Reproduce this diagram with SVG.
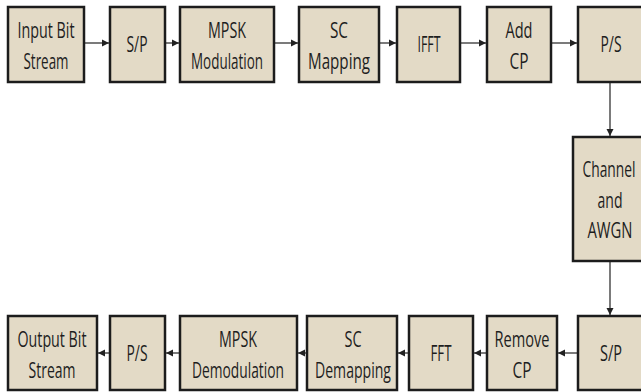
<svg xmlns="http://www.w3.org/2000/svg" width="641" height="392" viewBox="0 0 641 392">
<style>
.box{fill:#e3dac6;stroke:#1c1c1c;stroke-width:2.5}
.t{font-family:"Open Sans","Liberation Sans",sans-serif;font-size:21px;fill:#1e1e1e;text-anchor:middle}
.c{stroke:#333;stroke-width:1.3;fill:none;marker-end:url(#ah)}
</style>
<defs>
<marker id="ah" markerWidth="8" markerHeight="8" refX="7" refY="4" orient="auto" markerUnits="userSpaceOnUse">
<path d="M0,0.5 L7,4 L0,7.5 Z" fill="#222"/>
</marker>
</defs>
<rect width="641" height="392" fill="#ffffff"/>
<g id="connectors">
<line class="c" x1="84" y1="43" x2="109" y2="43"/>
<line class="c" x1="165" y1="43" x2="179" y2="43"/>
<line class="c" x1="274" y1="43" x2="298" y2="43"/>
<line class="c" x1="379" y1="43" x2="396" y2="43"/>
<line class="c" x1="460" y1="43" x2="486" y2="43"/>
<line class="c" x1="551" y1="43" x2="577" y2="43"/>
<line class="c" x1="610" y1="82" x2="610" y2="136"/>
<line class="c" x1="610" y1="261" x2="610" y2="315"/>
<line class="c" x1="578" y1="353" x2="558" y2="353"/>
<line class="c" x1="487" y1="353" x2="474" y2="353"/>
<line class="c" x1="409" y1="353" x2="398" y2="353"/>
<line class="c" x1="307" y1="353" x2="298" y2="353"/>
<line class="c" x1="180" y1="353" x2="166" y2="353"/>
<line class="c" x1="110" y1="353" x2="98" y2="353"/>
</g>
<g id="input">
<rect class="box" x="8" y="7" width="76" height="75"/>
<text class="t" x="46" y="38" textLength="57" lengthAdjust="spacingAndGlyphs">Input Bit</text>
<text class="t" x="46" y="69" textLength="45" lengthAdjust="spacingAndGlyphs">Stream</text>
</g>
<g id="sp1">
<rect class="box" x="110" y="7" width="55" height="75"/>
<text class="t" x="137" y="52" textLength="21" lengthAdjust="spacingAndGlyphs">S/P</text>
</g>
<g id="mpskmod">
<rect class="box" x="180" y="7" width="94" height="75"/>
<text class="t" x="227" y="38" textLength="38" lengthAdjust="spacingAndGlyphs">MPSK</text>
<text class="t" x="227" y="69" textLength="72" lengthAdjust="spacingAndGlyphs">Modulation</text>
</g>
<g id="scmap">
<rect class="box" x="299" y="7" width="80" height="75"/>
<text class="t" x="339" y="38" textLength="18" lengthAdjust="spacingAndGlyphs">SC</text>
<text class="t" x="339" y="69" textLength="62" lengthAdjust="spacingAndGlyphs">Mapping</text>
</g>
<g id="ifft">
<rect class="box" x="397" y="7" width="63" height="75"/>
<text class="t" x="429" y="52" textLength="23" lengthAdjust="spacingAndGlyphs">IFFT</text>
</g>
<g id="addcp">
<rect class="box" x="487" y="7" width="64" height="75"/>
<text class="t" x="519" y="38" textLength="27" lengthAdjust="spacingAndGlyphs">Add</text>
<text class="t" x="519" y="69" textLength="19" lengthAdjust="spacingAndGlyphs">CP</text>
</g>
<g id="ps1">
<rect class="box" x="578" y="7" width="72" height="75"/>
<text class="t" x="611" y="52" textLength="21" lengthAdjust="spacingAndGlyphs">P/S</text>
</g>
<g id="channel">
<rect class="box" x="573" y="137" width="76" height="124"/>
<text class="t" x="609" y="177" textLength="53" lengthAdjust="spacingAndGlyphs">Channel</text>
<text class="t" x="610" y="208" textLength="25" lengthAdjust="spacingAndGlyphs">and</text>
<text class="t" x="610" y="238" textLength="45" lengthAdjust="spacingAndGlyphs">AWGN</text>
</g>
<g id="sp2">
<rect class="box" x="578" y="316" width="72" height="74"/>
<text class="t" x="611" y="361" textLength="22" lengthAdjust="spacingAndGlyphs">S/P</text>
</g>
<g id="removecp">
<rect class="box" x="487" y="316" width="70" height="74"/>
<text class="t" x="522" y="347" textLength="55" lengthAdjust="spacingAndGlyphs">Remove</text>
<text class="t" x="522" y="378" textLength="19" lengthAdjust="spacingAndGlyphs">CP</text>
</g>
<g id="fft">
<rect class="box" x="409" y="316" width="64" height="74"/>
<text class="t" x="441" y="361" textLength="21" lengthAdjust="spacingAndGlyphs">FFT</text>
</g>
<g id="scdemap">
<rect class="box" x="307" y="316" width="90" height="74"/>
<text class="t" x="353" y="347" textLength="17" lengthAdjust="spacingAndGlyphs">SC</text>
<text class="t" x="353" y="378" textLength="76" lengthAdjust="spacingAndGlyphs">Demapping</text>
</g>
<g id="mpskdemod">
<rect class="box" x="180" y="316" width="117" height="74"/>
<text class="t" x="238" y="347" textLength="38" lengthAdjust="spacingAndGlyphs">MPSK</text>
<text class="t" x="238" y="378" textLength="92" lengthAdjust="spacingAndGlyphs">Demodulation</text>
</g>
<g id="ps2">
<rect class="box" x="110" y="316" width="55" height="74"/>
<text class="t" x="137" y="361" textLength="21" lengthAdjust="spacingAndGlyphs">P/S</text>
</g>
<g id="output">
<rect class="box" x="8" y="316" width="89" height="74"/>
<text class="t" x="52" y="347" textLength="69" lengthAdjust="spacingAndGlyphs">Output Bit</text>
<text class="t" x="52" y="378" textLength="47" lengthAdjust="spacingAndGlyphs">Stream</text>
</g>
</svg>
